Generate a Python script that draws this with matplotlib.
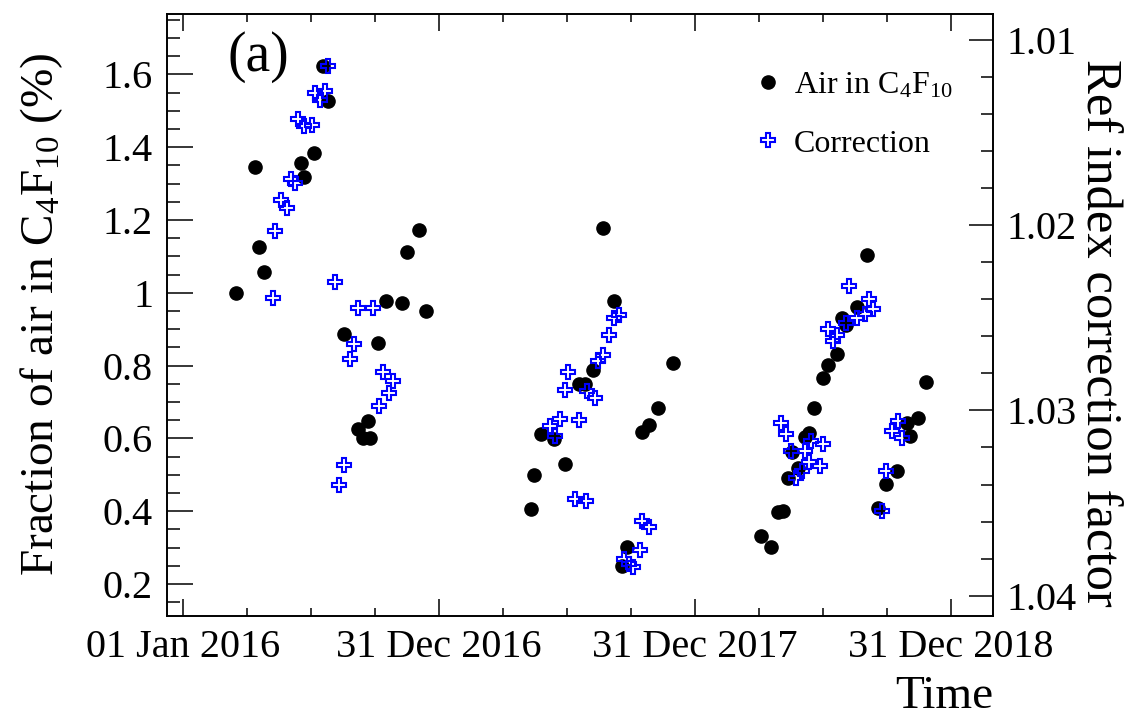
import numpy as np
import matplotlib
matplotlib.use("Agg")
import matplotlib.pyplot as plt
import matplotlib.dates as mdates
from matplotlib.lines import Line2D
from matplotlib.ticker import FixedLocator, FuncFormatter, MultipleLocator

plt.rcParams['font.family'] = ['Liberation Serif', 'DejaVu Serif']
plt.rcParams['mathtext.fontset'] = 'custom'
plt.rcParams['mathtext.rm'] = 'Liberation Serif'
plt.rcParams['mathtext.it'] = 'Liberation Serif:italic'

# days since 01 Jan 2016, fraction of air in C4F10 (%)
air_days = [75, 103, 108, 116, 168, 173, 187, 200, 207, 229,
            250, 256, 263, 267, 278, 290, 312, 319, 336, 346,
            496, 501, 510, 529, 545, 564, 573, 584, 599, 614,
            626, 633, 654, 664, 677, 698,
            824, 838, 849, 856, 863, 868, 877, 887, 892, 899,
            912, 919, 933, 939, 946, 961, 975, 991, 1003, 1018,
            1033, 1036, 1048, 1060]
air_frac = [1.000, 1.346, 1.127, 1.056, 1.356, 1.317, 1.383, 1.624, 1.528, 0.887,
            0.625, 0.600, 0.649, 0.600, 0.861, 0.978, 0.973, 1.111, 1.173, 0.951,
            0.405, 0.499, 0.611, 0.597, 0.530, 0.749, 0.749, 0.788, 1.177, 0.978,
            0.249, 0.301, 0.618, 0.637, 0.683, 0.808,
            0.333, 0.301, 0.399, 0.401, 0.490, 0.563, 0.518, 0.605, 0.616, 0.683,
            0.765, 0.802, 0.832, 0.930, 0.912, 0.962, 1.104, 0.410, 0.475, 0.510,
            0.643, 0.607, 0.657, 0.754]

# days since 01 Jan 2016, refractive index correction factor
corr_days = [128, 131, 140, 148, 154, 160, 164, 173, 184, 188,
             203, 195, 206, 217, 250, 271, 244, 238, 285, 299,
             293, 280, 229, 223,
             523, 530, 537, 549, 545, 565, 576, 587, 592, 599,
             608, 614, 622, 559, 575, 629, 636, 641, 651, 654, 665,
             852, 860, 867, 874, 882, 887, 892, 896, 908, 913,
             920, 932, 927, 946, 949, 961, 972, 978, 984, 996,
             1003, 1011, 1020, 1025]
corr_fac = [1.02393, 1.02034, 1.01863, 1.01908, 1.01751, 1.01773, 1.01427, 1.01464, 1.01458, 1.01287,
            1.01278, 1.01323, 1.01140, 1.02307, 1.02447, 1.02447, 1.02640, 1.02723, 1.02790, 1.02843,
            1.02906, 1.02978, 1.03293, 1.03404,
            1.03086, 1.03140, 1.03046, 1.02795, 1.02888, 1.03050, 1.02894, 1.02933, 1.02736, 1.02702,
            1.02591, 1.02501, 1.02484, 1.03478, 1.03491, 1.03802, 1.03829, 1.03845, 1.03756, 1.03599, 1.03629,
            1.03068, 1.03127, 1.03221, 1.03365, 1.03329, 1.03221, 1.03281, 1.03167, 1.03302, 1.03180,
            1.02561, 1.02591, 1.02628, 1.02528, 1.02327, 1.02502, 1.02477, 1.02401, 1.02453, 1.03545,
            1.03329, 1.03113, 1.03059, 1.03149]

major_dates = ['2016-01-01', '2016-12-31', '2017-12-31', '2018-12-31']
left_ticks = [0.2, 0.4, 0.6, 0.8, 1.0, 1.2, 1.4, 1.6]
right_ticks = [1.01, 1.02, 1.03, 1.04]

base = mdates.date2num(np.datetime64('2016-01-01'))
air_x = base + np.array(air_days)
corr_x = base + np.array(corr_days)

fig = plt.figure(figsize=(11.25, 7.2), dpi=100)
ax = fig.add_axes([0.1484, 0.1444, 0.7343, 0.8362])
ax2 = ax.twinx()

ax.plot(air_x, air_frac, 'o', color='black', markersize=9.5, zorder=2)
ax2.plot(corr_x, corr_fac, 'P', mfc='none', mec='blue', markersize=10.5, mew=1.5, zorder=3)

ax.set_xlim(base - 23, base + 1155)
ax.set_ylim(0.112, 1.766)
ax2.set_ylim(1.0411, 1.0086)

major_x = [mdates.date2num(np.datetime64(d)) for d in major_dates]
ax.xaxis.set_major_locator(FixedLocator(major_x))
ax.xaxis.set_major_formatter(mdates.DateFormatter('%d %b %Y'))
ax.xaxis.set_minor_locator(FixedLocator([base + k * 91.25 for k in range(-1, 14)]))

ax.yaxis.set_major_locator(FixedLocator(left_ticks))
ax.yaxis.set_major_formatter(FuncFormatter(lambda v, p: f'{v:g}'))
ax.yaxis.set_minor_locator(MultipleLocator(0.05))

ax2.yaxis.set_major_locator(FixedLocator(right_ticks))
ax2.yaxis.set_major_formatter(FuncFormatter(lambda v, p: f'{v:.2f}'))
ax2.yaxis.set_minor_locator(MultipleLocator(0.002))

ax.tick_params(axis='x', which='both', direction='in', top=True, labelsize=29, pad=9, width=1.1)
ax.tick_params(axis='x', which='major', length=12)
ax.tick_params(axis='x', which='minor', length=6)
ax.tick_params(axis='y', which='both', direction='in', right=False, labelsize=29, pad=10, width=1.1)
ax.tick_params(axis='y', which='major', length=19)
ax.tick_params(axis='y', which='minor', length=9.5)
ax2.tick_params(axis='y', which='both', direction='in', labelsize=29, pad=10, width=1.1)
ax2.tick_params(axis='y', which='major', length=17)
ax2.tick_params(axis='y', which='minor', length=8.5)

for a in (ax, ax2):
    for s in a.spines.values():
        s.set_linewidth(1.2)

fig.text(42 / 1125, 1 - 314 / 720, r'Fraction of air in C$_{\mathregular{4}}$F$_{\mathregular{10}}$ (%)',
         rotation=90, ha='center', va='center', fontsize=34)
fig.text(1099 / 1125, 1 - 333 / 720, 'Ref index correction factor',
         rotation=-90, ha='center', va='center', fontsize=36.5)
fig.text(993 / 1125, 1 - 697 / 720, 'Time', ha='right', va='center', fontsize=34)
fig.text(258 / 1125, 1 - 57 / 720, '(a)', ha='center', va='center', fontsize=40)

handles = [Line2D([], [], ls='none', marker='o', color='black', markersize=9.5),
           Line2D([], [], ls='none', marker='P', mfc='none', mec='blue', markersize=10.5, mew=1.5)]
ax2.legend(handles, [r'Air in C$_{\mathregular{4}}$F$_{\mathregular{10}}$', 'Correction'],
           loc='upper left', bbox_to_anchor=(752 / 1125, 1 - 71 / 720), bbox_transform=fig.transFigure,
           frameon=False, fontsize=23, handlelength=1.0, handletextpad=0.3, labelspacing=0.9,
           borderpad=0, borderaxespad=0)

fig.savefig('out.png', dpi=100)
